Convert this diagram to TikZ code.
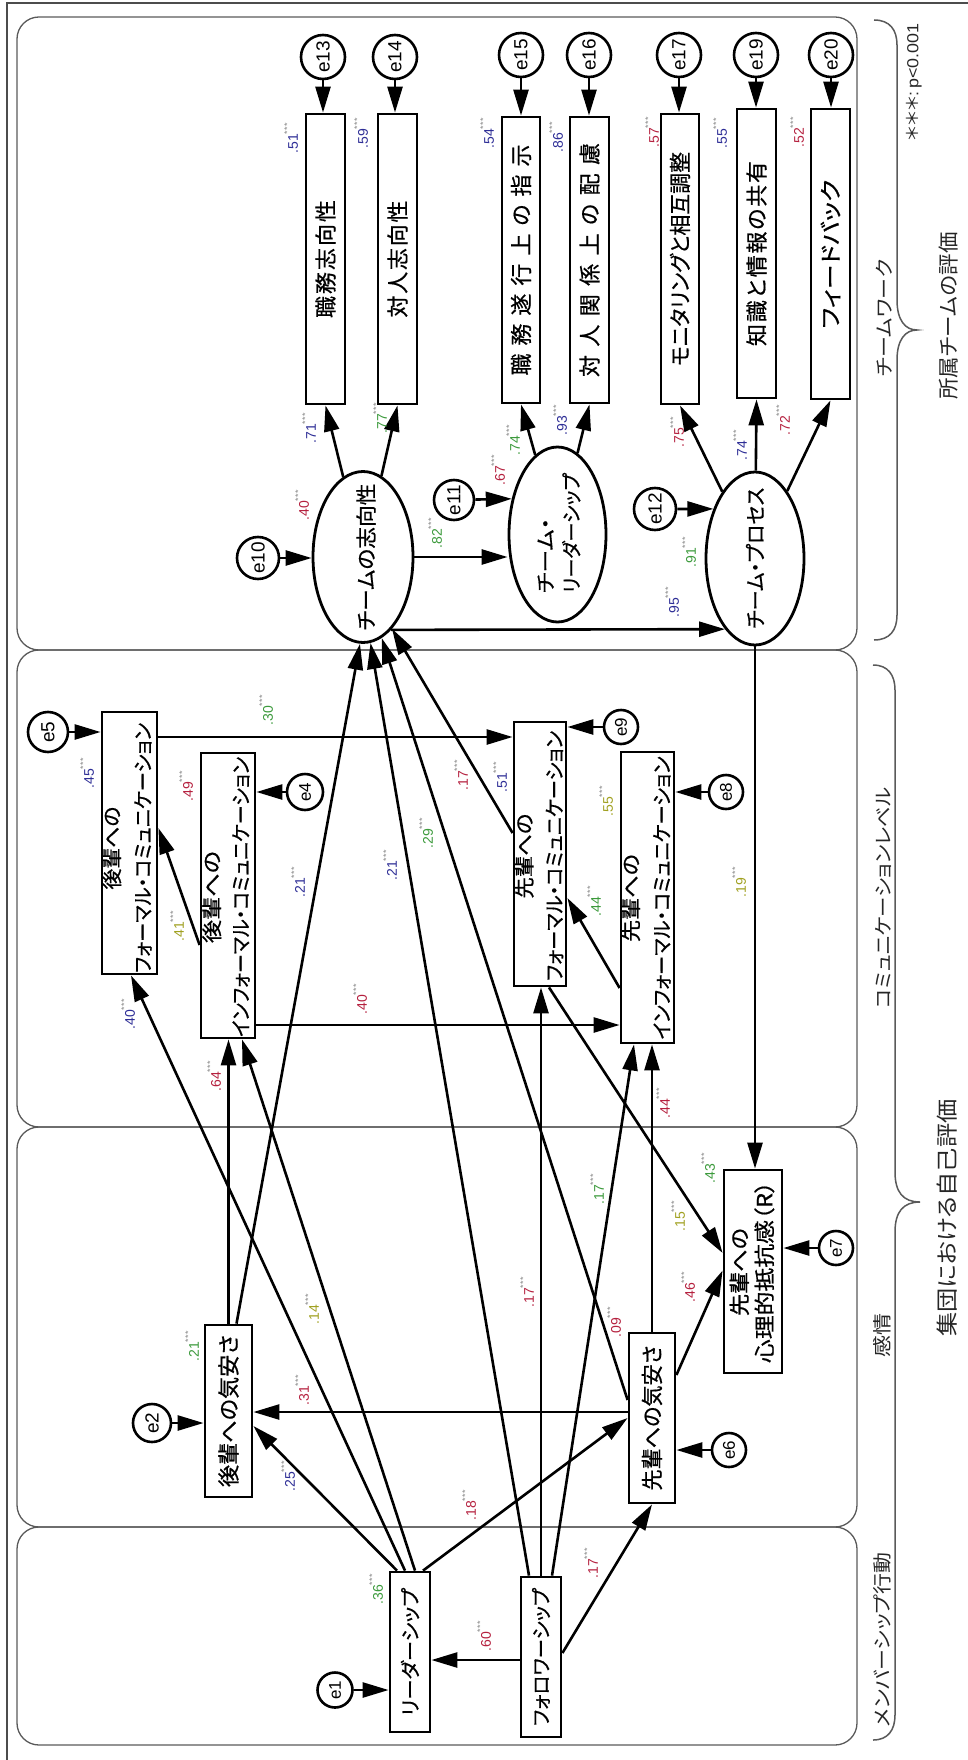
\documentclass[tikz,border=0pt]{standalone}
\usepackage{fontspec}
\usepackage{graphicx}
\usetikzlibrary{arrows.meta,shapes.geometric}
\setmainfont{Liberation Sans}
\newfontfamily\jp[RawFeature={+palt}]{Noto Sans CJK JP}
\newfontfamily\jpb[RawFeature={+palt},FakeBold=0.6]{Noto Sans CJK JP}
\definecolor{cnavy}{HTML}{2E2E96}
\definecolor{cred}{HTML}{B5213F}
\definecolor{cgreen}{HTML}{3C9A3C}
\definecolor{colive}{HTML}{A0A020}
\definecolor{stargray}{HTML}{8A8A8A}
\definecolor{panelgray}{HTML}{5A5A5A}
\newcommand{\fw}[2]{\resizebox{#1pt}{\height}{#2}}
\newcommand{\sw}[2]{\makebox[#1pt]{#2}}
\newcommand{\st}{\raisebox{7.5pt}{\fontsize{9}{9}\selectfont\color{stargray}*\kern0.5pt*\kern0.5pt*}}
\begin{document}
\begin{tikzpicture}[x=1pt,y=-1pt,
 box/.style={draw, line width=2.8pt, inner sep=0pt},
 ell/.style={ellipse, draw, line width=2.8pt, inner sep=0pt},
 ecirc/.style={circle, draw, line width=2.6pt, inner sep=0pt, rotate=90, font=\fontsize{19}{19}\selectfont},
 ecircs/.style={ecirc, font=\fontsize{17}{17}\selectfont},
 txt/.style={rotate=90, inner sep=0pt, font=\jpb\fontsize{22}{22}\selectfont},
 txtt/.style={rotate=90, inner sep=0pt, align=center, font=\jpb\fontsize{20.5}{31}\selectfont},
 arr/.style={line width=2.6pt, -{Triangle[length=26pt,width=15pt]}},
 lab/.style={rotate=90, inner sep=0pt, font=\fontsize{14}{14}\selectfont},
 panel/.style={draw=panelgray, line width=1.3pt, rounded corners=22pt},
 brace/.style={draw=panelgray, line width=1.5pt},
 side/.style={rotate=90, inner sep=0pt, text=black!85, font=\jp\fontsize{19}{19}\selectfont}
]
\useasboundingbox (0,0) rectangle (968,1760);
% frame and panels
\draw[draw=black!70, line width=1.4pt] (7,1760) -- (7,3) -- (968,3);
\draw[panel] (17,17) rectangle (857,650);
\draw[panel] (17,650) rectangle (857,1127);
\draw[panel] (17,1127) rectangle (857,1527);
\draw[panel] (17,1527) rectangle (857,1745);
% braces
\draw[brace] (874,20) .. controls (890,20) and (897,30) .. (897,45) -- (897,300)
  .. controls (897,320) and (905,330) .. (917,330) .. controls (905,330) and (897,340) .. (897,360)
  -- (897,615) .. controls (897,630) and (890,640) .. (874,640);
\draw[brace] (873,665) .. controls (888,665) and (895,675) .. (895,690) -- (895,1172)
  .. controls (895,1192) and (903,1202) .. (920,1202) .. controls (903,1202) and (895,1212) .. (895,1232)
  -- (895,1715) .. controls (895,1730) and (888,1740) .. (873,1740);
% side texts
\node[side] (s1) at (884,318) {\fw{117}{チームワーク}};
\node[side] (s2) at (883,898) {\fw{221}{コミュニケーションレベル}};
\node[side] (s3) at (882,1335) {\fw{44}{感情}};
\node[side] (s4) at (882,1640) {\fw{174}{メンバーシップ行動}};
\node[side, font=\jp\fontsize{21}{21}\selectfont] (s5) at (949,316) {\fw{167}{所属チームの評価}};
\node[side, font=\jp\fontsize{22}{22}\selectfont] (s6) at (947,1218) {\fw{237}{集団における自己評価}};
\node[side, font=\fontsize{16}{16}\selectfont] (s7) at (914,82) {\fw{117}{{\jp ＊＊＊}:\,p<0.001}};

% ===== Panel 1 =====
\node[box, minimum width=39pt, minimum height=290pt] (bJS) at (325.5,259) {};
\node[box, minimum width=39pt, minimum height=290pt] (bTS) at (397.5,259) {};
\node[box, minimum width=38pt, minimum height=286pt] (bJD) at (521,260) {};
\node[box, minimum width=39pt, minimum height=286pt] (bTH) at (589.5,260) {};
\node[box, minimum width=38pt, minimum height=290pt] (bMO) at (680,259) {};
\node[box, minimum width=39pt, minimum height=289pt] (bCH) at (756.5,253.5) {};
\node[box, minimum width=39pt, minimum height=290pt] (bFB) at (830.5,254) {};
\node[txt] (bJSt) at (bJS) {\sw{118}{職\hfill 務\hfill 志\hfill 向\hfill 性}};
\node[txt] (bTSt) at (bTS) {\sw{117}{対\hfill 人\hfill 志\hfill 向\hfill 性}};
\node[txt] (bJDt) at (bJD) {\sw{231}{職\hfill 務\hfill 遂\hfill 行\hfill 上\hfill の\hfill 指\hfill 示}};
\node[txt] (bTHt) at (bTH) {\sw{234}{対\hfill 人\hfill 関\hfill 係\hfill 上\hfill の\hfill 配\hfill 慮}};
\node[txt] (bMOt) at (bMO) {\fw{214}{モニタリングと相互調整}};
\node[txt] (bCHt) at (bCH) {\sw{185}{知\hfill 識\hfill と\hfill 情\hfill 報\hfill の\hfill 共\hfill 有}};
\node[txt] (bFBt) at (bFB) {\fw{149}{フィードバック}};

\node[ell, minimum width=100pt, minimum height=171pt] (tO) at (363,557) {};
\node[ell, minimum width=97pt, minimum height=175pt] (tL) at (557.5,534.5) {};
\node[ell, minimum width=98pt, minimum height=173pt] (tP) at (755,558.5) {};
\node[txt, font=\jpb\fontsize{21}{21}\selectfont] (tOt) at (366,557) {\fw{147}{チームの志向性}};
\node[txtt, align=left, font=\jpb\fontsize{20}{26}\selectfont] (tLt) at (559,533) {\fw{75}{チーム・}\\\fw{120}{リーダーシップ}};
\node[txt, font=\jpb\fontsize{21}{21}\selectfont] (tPt) at (755,558) {\fw{141}{チーム・プロセス}};

\node[ecirc, minimum size=44pt] (c13) at (323,57) {e13};
\node[ecirc, minimum size=44pt] (c14) at (395,57) {e14};
\node[ecirc, minimum size=44pt] (c15) at (521,55) {e15};
\node[ecirc, minimum size=44pt] (c16) at (589,55) {e16};
\node[ecirc, minimum size=44pt] (c17) at (679,55) {e17};
\node[ecirc, minimum size=44pt] (c19) at (756,55) {e19};
\node[ecirc, minimum size=44pt] (c20) at (831,55) {e20};
\node[ecirc, minimum size=42pt] (c10) at (258,558) {e10};
\node[ecirc, minimum size=40pt] (c11) at (454,500) {e11};
\node[ecirc, minimum size=42pt] (c12) at (655,509) {e12};

\draw[arr] (c13) -- (c13 |- bJS.north);
\draw[arr] (c14) -- (c14 |- bTS.north);
\draw[arr] (c15) -- (c15 |- bJD.north);
\draw[arr] (c16) -- (c16 |- bTH.north);
\draw[arr] (c17) -- (c17 |- bMO.north);
\draw[arr] (c19) -- (c19 |- bCH.north);
\draw[arr] (c20) -- (c20 |- bFB.north);
\draw[arr] (tO) -- (bJS.south);
\draw[arr] (tO) -- (bTS.south);
\draw[arr] (c10) -- (c10 -| tO.west);
\draw[arr] (tO.east) -- (tO.east -| tL.west);
\draw[arr] (c11) -- (tL.142);
\draw[arr] (tL) -- (bJD.south);
\draw[arr] (tL) -- (bTH.south);
\draw[arr] (tO.-69) -- (tP.-113);
\draw[arr] (c12) -- (tP.130);
\draw[arr] (tP) -- (bMO.south);
\draw[arr] (tP) -- (bCH.south);
\draw[arr] (tP) -- (bFB.south);

% ===== Panel 2 =====
\node[box, minimum width=55pt, minimum height=262pt] (bKF) at (129.5,843) {};
\node[box, minimum width=54pt, minimum height=285pt] (bKI) at (228,895.5) {};
\node[box, minimum width=52pt, minimum height=264pt] (bSF) at (540,854) {};
\node[box, minimum width=53pt, minimum height=291pt] (bSI) at (647.5,897.5) {};
\node[txtt] (bKFt) at (127,848) {\fw{83}{後輩への}\\\fw{250}{フォーマル・コミュニケーション}};
\node[txtt, font=\jpb\fontsize{20.5}{29}\selectfont] (bKIt) at (226,897) {\fw{92}{後輩への}\\\fw{280}{インフォーマル・コミュニケーション}};
\node[txtt, font=\jpb\fontsize{20.5}{30}\selectfont] (bSFt) at (539,856) {\fw{85}{先輩への}\\\fw{250}{フォーマル・コミュニケーション}};
\node[txtt, font=\jpb\fontsize{20.5}{31}\selectfont] (bSIt) at (646,898) {\fw{88}{先輩への}\\\fw{283}{インフォーマル・コミュニケーション}};

\node[ecirc, minimum size=40pt] (c5) at (48,732) {e5};
\node[ecircs, minimum size=36pt] (c4) at (305,792) {e4};
\node[ecircs, minimum size=34pt] (c9) at (621,727) {e9};
\node[ecircs, minimum size=34pt] (c8) at (726,792) {e8};

\draw[arr] (c5) -- (c5 -| bKF.west);
\draw[arr] (c4) -- (c4 -| bKI.east);
\draw[arr] (c9) -- (c9 -| bSF.east);
\draw[arr] (c8) -- (c8 -| bSI.east);
\coordinate (p41s) at ([yshift=-49.5pt]bKI.west);
\coordinate (p41t) at ([yshift=15pt]bKF.east);
\draw[arr] (p41s) -- (p41t);
\coordinate (p30) at ([yshift=106pt]bKF.east);
\draw[arr] (p30) -- (p30 -| bSF.west);
\coordinate (p40b) at ([yshift=-129.5pt]bKI.east);
\draw[arr] (p40b) -- (p40b -| bSI.west);
\coordinate (p44s) at ([yshift=-90.5pt]bSI.west);
\coordinate (p44t) at ([yshift=-44pt]bSF.east);
\draw[arr] (p44s) -- (p44t);
\coordinate (p17s) at ([yshift=21pt]bSF.west);
\draw[arr] (p17s) -- (tO.-68);

% ===== Panel 3 =====
\node[box, minimum width=47pt, minimum height=172pt] (bKK) at (228.5,1411) {};
\node[box, minimum width=46pt, minimum height=170pt] (bSK) at (652,1418) {};
\node[box, minimum width=58pt, minimum height=203pt] (bTK) at (753,1271.5) {};
\node[txt] (bKKt) at (bKK) {\fw{152}{後輩への気安さ}};
\node[txt] (bSKt) at (bSK) {\fw{145}{先輩への気安さ}};
\node[txtt, font=\jpb\fontsize{21}{25}\selectfont] (bTKt) at (752,1272) {\fw{88}{先輩への}\\\fw{182}{心理的抵抗感（R）}};

\node[ecirc, minimum size=38pt] (c2) at (152,1423) {e2};
\node[ecircs, minimum size=34pt] (c6) at (729,1450) {e6};
\node[ecircs, minimum size=34pt] (c7) at (836,1248) {e7};

\draw[arr] (c2) -- (c2 -| bKK.west);
\draw[arr] (c6) -- (c6 -| bSK.east);
\draw[arr] (c7) -- (c7 -| bTK.east);
\draw[arr] (tP.south) -- (tP.south |- bTK.north);
\coordinate (p15s) at ([xshift=9pt]bSF.south);
\coordinate (p15t) at ([yshift=18.5pt]bTK.west);
\draw[arr] (p15s) -- (p15t);
\draw[arr] (bKK.north) -- (bKK.north |- bKI.south);
\coordinate (p21a) at ([xshift=8pt]bKK.north);
\draw[arr] (p21a) -- (tO.-92);
\coordinate (p31) at ([yshift=6pt]bSK.west);
\draw[arr] (p31) -- (p31 -| bKK.east);
\coordinate (p29) at ([yshift=18pt]bSK.west);
\draw[arr] (p29) -- (tO.-77);
\draw[arr] (bSK.north) -- (bSK.north |- bSI.south);
\coordinate (p46s) at ([yshift=43pt]bSK.east);
\coordinate (p46t) at ([yshift=1pt]bTK.west);
\draw[arr] (p46s) -- (p46t);

% ===== Panel 4 =====
\node[box, minimum width=40pt, minimum height=160pt] (bLS) at (410,1652) {};
\node[box, minimum width=40pt, minimum height=160pt] (bFS) at (541,1657) {};
\node[txt, font=\jpb\fontsize{20}{20}\selectfont] (bLSt) at (bLS) {\fw{128}{リーダーシップ}};
\node[txt, font=\jpb\fontsize{20}{20}\selectfont] (bFSt) at (bFS) {\fw{138}{フォロワーシップ}};
\node[ecircs, minimum size=35pt] (c1) at (335,1690) {e1};

\draw[arr] (c1) -- (c1 -| bLS.west);
\coordinate (p60) at ([yshift=-3pt]bFS.west);
\draw[arr] (p60) -- (p60 -| bLS.east);
\coordinate (l25s) at ([xshift=-13pt]bLS.north);
\coordinate (l25t) at ([yshift=-15pt]bKK.east);
\draw[arr] (l25s) -- (l25t);
\coordinate (l40s) at ([xshift=-5pt]bLS.north);
\coordinate (l40t) at ([xshift=1.5pt]bKF.south);
\draw[arr] (l40s) -- (l40t);
\coordinate (l14s) at ([xshift=5pt]bLS.north);
\coordinate (l14t) at ([xshift=14pt]bKI.south);
\draw[arr] (l14s) -- (l14t);
\coordinate (l18s) at ([xshift=13pt]bLS.north);
\draw[arr] (l18s) -- (bSK.west);
\coordinate (f21s) at ([xshift=-12pt]bFS.north);
\draw[arr] (f21s) -- (tO.-85);
\draw[arr] (bFS.north) -- (bFS.north |- bSF.south);
\coordinate (f17s) at ([xshift=11pt]bFS.north);
\coordinate (f17t) at ([xshift=-13.5pt]bSI.south);
\draw[arr] (f17s) -- (f17t);
\coordinate (f17b) at ([yshift=4pt]bFS.east);
\draw[arr] (f17b) -- (bSK.south);

% ===== labels =====
\node[lab, text=cnavy] (l1) at (291,138) {.51\st};
\node[lab, text=cnavy] (l2) at (361,133) {.59\st};
\node[lab, text=cnavy] (l3) at (309,428) {.71\st};
\node[lab, text=cgreen] (l4) at (380,418) {.77\st};
\node[lab, text=cnavy] (l5) at (487,133) {.54\st};
\node[lab, text=cnavy] (l6) at (556,137) {.86\st};
\node[lab, text=cred] (l7) at (652,132) {.57\st};
\node[lab, text=cnavy] (l8) at (720,133) {.55\st};
\node[lab, text=cred] (l9) at (797,132) {.52\st};
\node[lab, text=cgreen] (l10) at (513,440) {.74\st};
\node[lab, text=cnavy] (l11) at (560,420) {.93\st};
\node[lab, text=cred] (l12) at (498,470) {.67\st};
\node[lab, text=cred] (l13) at (677,432) {.75\st};
\node[lab, text=cnavy] (l14) at (740,445) {.74\st};
\node[lab, text=cred] (l15) at (783,420) {.72\st};
\node[lab, text=cred] (l16) at (302,505) {.40\st};
\node[lab, text=cgreen] (l17) at (435,533) {.82\st};
\node[lab, text=cgreen] (l18) at (689,552) {.91\st};
\node[lab, text=cnavy] (l19) at (672,602) {.95\st};
\node[lab, text=cnavy] (l20) at (87,773) {.45\st};
\node[lab, text=cgreen] (l21) at (266,710) {.30\st};
\node[lab, text=cred] (l22) at (186,786) {.49\st};
\node[lab, text=colive] (l23) at (177,926) {.41\st};
\node[lab, text=cnavy] (l24) at (128,1014) {.40\st};
\node[lab, text=cred] (l25) at (214,1076) {.64\st};
\node[lab, text=cred] (l26) at (360,999) {.40\st};
\node[lab, text=cnavy] (l27) at (298,882) {.21\st};
\node[lab, text=cnavy] (l28) at (390,865) {.21\st};
\node[lab, text=cgreen] (l29) at (426,833) {.29\st};
\node[lab, text=cred] (l30) at (461,775) {.17\st};
\node[lab, text=cnavy] (l31) at (500,777) {.51\st};
\node[lab, text=colive] (l32) at (606,801) {.55\st};
\node[lab, text=cgreen] (l33) at (594,901) {.44\st};
\node[lab, text=colive] (l34) at (739,882) {.19\st};
\node[lab, text=cred] (l35) at (663,1103) {.44\st};
\node[lab, text=cgreen] (l36) at (708,1168) {.43\st};
\node[lab, text=colive] (l37) at (678,1216) {.15\st};
\node[lab, text=cred] (l38) at (688,1287) {.46\st};
\node[lab, text=cgreen] (l39) at (597,1189) {.17\st};
\node[lab, text=cred] (l40) at (527,1292) {.17\st};
\node[lab, text=cred] (l41) at (614,1322) {.09\st};
\node[lab, text=colive] (l42) at (312,1309) {.14\st};
\node[lab, text=cred] (l43) at (302,1390) {.31\st};
\node[lab, text=cgreen] (l44) at (192,1346) {.21\st};
\node[lab, text=cnavy] (l45) at (288,1476) {.25\st};
\node[lab, text=cred] (l46) at (469,1505) {.18\st};
\node[lab, text=cgreen] (l47) at (376,1589) {.36\st};
\node[lab, text=cred] (l48) at (484,1636) {.60\st};
\node[lab, text=cred] (l49) at (591,1563) {.17\st};
\end{tikzpicture}
\end{document}
